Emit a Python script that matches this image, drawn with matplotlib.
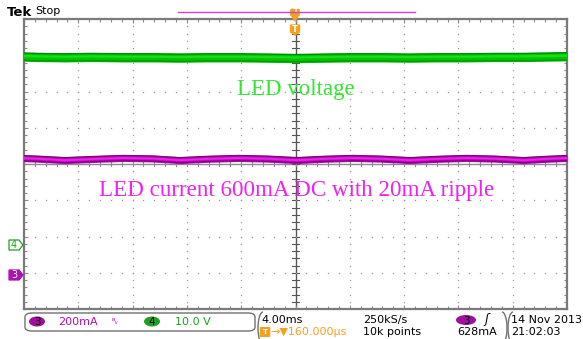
import numpy as np
import matplotlib
matplotlib.use("Agg")
import matplotlib.pyplot as plt
from matplotlib.patches import FancyBboxPatch, Ellipse, Polygon, Arc
from matplotlib.lines import Line2D

# ---------------- data ----------------
# time in ms across the 40 ms record (4 ms/div, 10 div)
t_ms = [0, 1.0, 3.0, 5.0, 7.3, 9.5, 11.5, 13.5, 15.8, 18.0, 20.1,
        22.0, 24.2, 26.3, 28.4, 30.5, 32.6, 34.7, 36.8, 38.5, 40]
# LED current (channel 3), mA
led_current = [644, 641, 633, 639, 645, 642, 633, 640, 645, 641, 633,
               640, 645, 641, 633, 640, 645, 641, 633, 640, 645]
current_band = 19      # half-width of noisy trace, mA
# LED voltage (channel 4), V
led_voltage = [51.9, 51.8, 51.7, 51.8, 51.7, 51.7, 51.6, 51.7, 51.7, 51.6, 51.5,
               51.6, 51.7, 51.7, 51.6, 51.7, 51.7, 51.8, 51.8, 51.9, 52.0]
voltage_band = 1.25    # half-width of noisy trace, V

ch3_scale = 200.0      # mA/div
ch4_scale = 10.0       # V/div
ch3_offset = -3.06     # div (ground marker position)
ch4_offset = -2.23     # div
time_per_div = 4.0     # ms/div

labels_status = ["200mA", "10.0 V", "4.00ms", "250kS/s", "10k points",
                 "628mA", "14 Nov 2013", "21:02:03"]

# ---------------- figure ----------------
W, H = 583, 339
fig = plt.figure(figsize=(W / 100, H / 100), dpi=100)
fig.patch.set_facecolor("white")

L, R, T, B = 24, 567, 19, 309
ax = fig.add_axes([L / W, 1 - B / H, (R - L) / W, (B - T) / H])
ax.set_xlim(0, 10)
ax.set_ylim(-4, 4)
ax.set_facecolor("white")

grid_c = "#8a8a8a"
for s in ax.spines.values():
    s.set_color("#7a7a7a")
    s.set_linewidth(1.6)
ax.set_xticks(np.arange(0, 10.01, 1))
ax.set_yticks(np.arange(-4, 4.01, 1))
ax.set_xticks(np.arange(0, 10.01, 0.2), minor=True)
ax.set_yticks(np.arange(-4, 4.01, 0.2), minor=True)
ax.tick_params(which="both", direction="in", top=True, right=True,
               labelbottom=False, labelleft=False, color=grid_c, width=0.8)
ax.tick_params(which="major", length=3)
ax.tick_params(which="minor", length=2)

# dotted graticule
minor = np.arange(0, 10.01, 0.2)
for gx in range(1, 10):
    if gx == 5:
        continue
    ys = np.arange(-4, 4.01, 0.2)
    ax.plot(np.full_like(ys, gx), ys, ls="none", marker="s", ms=0.9,
            color="#9a9a9a", mew=0)
for gy in range(-3, 4):
    if gy == 0:
        continue
    ax.plot(minor, np.full_like(minor, gy), ls="none", marker="s", ms=0.9,
            color="#9a9a9a", mew=0)
# centre crosshair
ax.axhline(0, color="#8c8c8c", lw=1.0, zorder=1)
ax.axvline(5, color="#555555", lw=1.0, zorder=1)
for v in np.arange(-4, 4.01, 0.2):
    ax.plot([4.94, 5.06], [v, v], color="#555555", lw=0.8, zorder=1)
for v in minor:
    ax.plot([v, v], [-0.06, 0.06], color="#8c8c8c", lw=0.8, zorder=1)

# traces
tx = np.array(t_ms) / time_per_div
yv = np.array(led_voltage) / ch4_scale + ch4_offset
bv = voltage_band / ch4_scale
ax.fill_between(tx, yv - bv, yv + bv, color="#00c400", lw=0, zorder=3)
ax.plot(tx, yv + bv * 0.8, color="#008c00", lw=1.0, zorder=3)
ax.plot(tx, yv - bv * 0.8, color="#009a00", lw=1.0, zorder=3)
ax.plot(tx, yv + bv * 0.15, color="#18e018", lw=1.6, zorder=3)

yc = np.array(led_current) / ch3_scale + ch3_offset
bc = current_band / ch3_scale
ax.fill_between(tx, yc - bc, yc + bc, color="#c400c4", lw=0, zorder=3)
ax.plot(tx, yc + bc * 0.75, color="#7a0a7a", lw=0.9, zorder=3)
ax.plot(tx, yc - bc * 0.75, color="#7a0a7a", lw=0.9, zorder=3)
ax.plot(tx, yc, color="#e628e6", lw=1.4, zorder=3)

# annotations
fig.text(296 / W, 1 - 89 / H, "LED voltage", color="#33e633", fontsize=16.5,
         family="Liberation Serif", ha="center", va="center")
fig.text(297 / W, 1 - 191 / H, "LED current 600mA DC with 20mA ripple",
         color="#ee22ee", fontsize=16.6, family="Liberation Serif",
         ha="center", va="center")


def px(x, y):
    return (x / W, 1 - y / H)


# ---------------- top ----------------
fig.text(*px(7, 12), "Tek", fontsize=9.5, fontweight="bold", va="center",
         ha="left", family="DejaVu Sans")
fig.text(*px(35, 11), "Stop", fontsize=8, va="center", ha="left",
         family="DejaVu Sans")
fig.add_artist(Line2D([178 / W, 415 / W], [1 - 12 / H, 1 - 12 / H],
                      color="#cc44cc", lw=1.0))
orange = "#f5a020"
fig.add_artist(FancyBboxPatch(px(292, 15), 6 / W, 5 / H,
                              boxstyle="round,pad=0.002", fc=orange, ec=orange))
fig.add_artist(Polygon([px(292, 16), px(298, 16), px(295, 21)], closed=True,
                       fc=orange, ec=orange, transform=fig.transFigure))
fig.add_artist(Polygon([px(290.5, 25), px(299.5, 25), px(299.5, 32),
                        px(295, 35), px(290.5, 32)], closed=True,
                       fc=orange, ec=orange, transform=fig.transFigure))
fig.text(*px(295, 30), "T", color="white", fontsize=6, fontweight="bold",
         ha="center", va="center")
fig.text(*px(295, 11), "T", color="white", fontsize=4.5, fontweight="bold",
         ha="center", va="center")

# ---------------- channel markers ----------------
fig.add_artist(Polygon([px(9, 240), px(19, 240), px(23, 245), px(19, 250),
                        px(9, 250)], closed=True, fc="white", ec="#20a020",
                       lw=0.9, transform=fig.transFigure))
fig.text(*px(14, 245), "4", color="#20a020", fontsize=7, ha="center",
         va="center")
fig.add_artist(Polygon([px(9, 270), px(19, 270), px(23, 275), px(19, 280),
                        px(9, 280)], closed=True, fc="#b010b0", ec="#b010b0",
                       lw=0.9, transform=fig.transFigure))
fig.text(*px(14, 275), "3", color="white", fontsize=7, ha="center",
         va="center")

# ---------------- status bar ----------------
fig.add_artist(FancyBboxPatch(px(25, 331), 230 / W, 18 / H,
                              boxstyle="round,pad=0,rounding_size=0.012",
                              fc="white", ec="#707070", lw=1.0,
                              transform=fig.transFigure))
fig.add_artist(Ellipse(px(37, 321.5), 16 / W, 10 / H, fc="#a010a0",
                       ec="none", transform=fig.transFigure))
fig.text(*px(37, 322), "3", fontsize=7.5, ha="center", va="center",
         color="black")
fig.text(*px(58, 322), labels_status[0], fontsize=8, color="#b010b0",
         ha="left", va="center")
fig.text(*px(115, 321), "ᴮᵥ", fontsize=6, color="#b010b0", ha="center",
         va="center")
fig.add_artist(Ellipse(px(152, 321.5), 16 / W, 10 / H, fc="#20a020",
                       ec="none", transform=fig.transFigure))
fig.text(*px(152, 322), "4", fontsize=7.5, ha="center", va="center",
         color="black")
fig.text(*px(175, 322), labels_status[1], fontsize=8, color="#20a020",
         ha="left", va="center")

# brackets
for cx, th1, th2 in [(263, 90, 270), (502, 270, 90), (513, 90, 270)]:
    fig.add_artist(Arc(px(cx, 328), 10 / W, 32 / H, theta1=th1, theta2=th2,
                       color="#707070", lw=1.0, transform=fig.transFigure))

fig.text(*px(261, 320), labels_status[2], fontsize=8, color="black",
         ha="left", va="center")
fig.add_artist(FancyBboxPatch(px(261, 336), 8 / W, 8 / H,
                              boxstyle="round,pad=0.001", fc=orange, ec=orange,
                              transform=fig.transFigure))
fig.text(*px(265, 332), "T", fontsize=5, color="white", fontweight="bold",
         ha="center", va="center")
fig.text(*px(270, 332), "\u2192\u25bc160.000\u00b5s", fontsize=8,
         color=orange, ha="left", va="center")
fig.text(*px(363, 320), labels_status[3], fontsize=8, color="black",
         ha="left", va="center")
fig.text(*px(363, 332), labels_status[4], fontsize=8, color="black",
         ha="left", va="center")
fig.add_artist(Ellipse(px(466, 320), 20 / W, 10 / H, fc="#a010a0",
                       ec="none", transform=fig.transFigure))
fig.text(*px(466, 320.5), "3", fontsize=7.5, ha="center", va="center",
         color="black")
fig.text(*px(487, 320), "\u0283", fontsize=9, ha="center", va="center",
         color="black", style="italic")
fig.text(*px(497, 332), labels_status[5], fontsize=8, color="black",
         ha="right", va="center")
fig.text(*px(511, 320), labels_status[6], fontsize=8, color="black",
         ha="left", va="center")
fig.text(*px(511, 332), labels_status[7], fontsize=8, color="black",
         ha="left", va="center")

fig.savefig("out.png", dpi=100, facecolor="white")
